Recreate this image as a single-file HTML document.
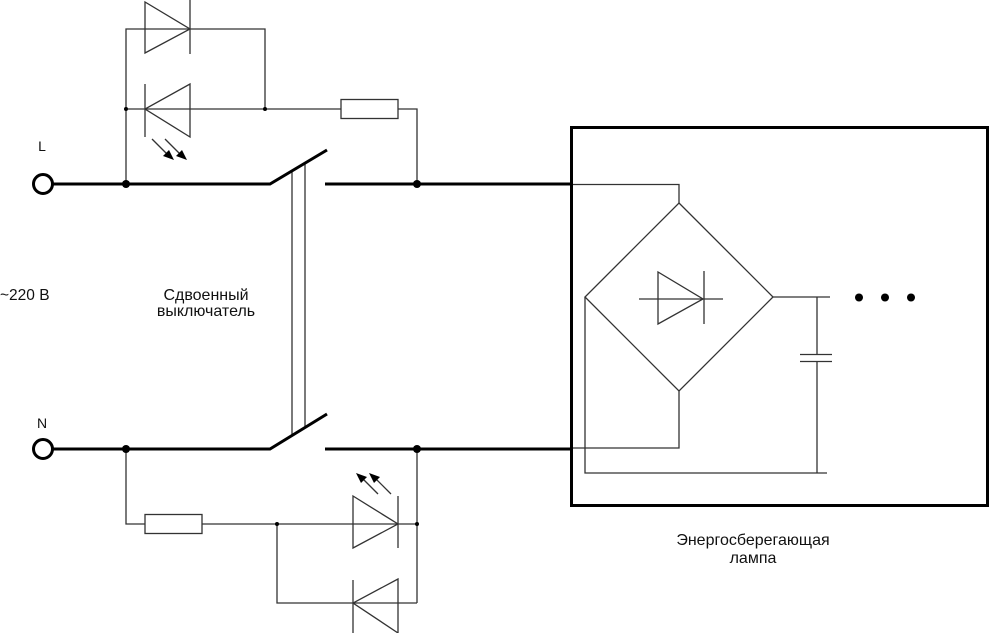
<!DOCTYPE html>
<html>
<head>
<meta charset="utf-8">
<style>
html,body{margin:0;padding:0;background:#fff;}
svg{display:block;}
text{font-family:"Liberation Sans",Arial,sans-serif;fill:#111;}
</style>
</head>
<body>
<svg width="989" height="633" viewBox="0 0 989 633" xmlns="http://www.w3.org/2000/svg">
<g fill="none" stroke="#333" stroke-width="1.3">
  <!-- top diode group -->
  <polyline points="126,184 126,29 265,29 265,109"/>
  <polygon points="145,2 145,53 190,29"/>
  <line x1="190" y1="0" x2="190" y2="54"/>
  <!-- LED top -->
  <line x1="126" y1="109" x2="341" y2="109"/>
  <polygon points="190,84 190,137 145,109"/>
  <line x1="145" y1="84" x2="145" y2="137"/>
  <rect x="341" y="99.5" width="57" height="19"/>
  <polyline points="398,109 417,109 417,184"/>
  <line x1="152" y1="139" x2="168" y2="155"/>
  <line x1="165" y1="139" x2="181" y2="155"/>
  <!-- bottom group -->
  <polyline points="126,449 126,524 145,524"/>
  <rect x="145" y="514.5" width="57" height="19"/>
  <line x1="202" y1="524" x2="417" y2="524"/>
  <polygon points="353,496 353,548 398,524"/>
  <line x1="398" y1="496" x2="398" y2="548"/>
  <line x1="417" y1="449" x2="417" y2="603"/>
  <polyline points="277,524 277,603 417,603"/>
  <polygon points="398,579 398,633 353,603"/>
  <line x1="353" y1="580" x2="353" y2="633"/>
  <line x1="378" y1="494" x2="362" y2="478"/>
  <line x1="391" y1="494" x2="375" y2="478"/>
  <!-- switch link -->
  <line x1="292" y1="171" x2="292" y2="435"/>
  <line x1="305" y1="164" x2="305" y2="428"/>
  <!-- lamp internals -->
  <polyline points="571,184.5 679,184.5 679,203"/>
  <polygon points="679,203 773,297 679,391 585,297"/>
  <polyline points="679,391 679,448 571,448"/>
  <polyline points="585,297 585,473 827,473"/>
  <line x1="773" y1="297" x2="830" y2="297"/>
  <line x1="817" y1="297" x2="817" y2="354"/>
  <line x1="817" y1="362" x2="817" y2="473"/>
  <line x1="800" y1="354.5" x2="832" y2="354.5"/>
  <line x1="800" y1="361.5" x2="832" y2="361.5"/>
  <line x1="639" y1="299" x2="723" y2="299"/>
  <polygon points="658,272 658,324 703,299"/>
  <line x1="704" y1="271" x2="704" y2="324"/>
</g>
<!-- arrowheads -->
<g fill="#000" stroke="none">
  <polygon points="174,160 163,156 169,150"/>
  <polygon points="187,160 176,156 182,150"/>
  <polygon points="356,473 367,477 361,483"/>
  <polygon points="369,473 380,477 374,483"/>
</g>
<!-- thick lines -->
<g fill="none" stroke="#000" stroke-width="3">
  <polyline points="53,184 270,184 327,150"/>
  <line x1="325" y1="184" x2="572" y2="184"/>
  <polyline points="53,449 270,449 327,414"/>
  <line x1="325" y1="449" x2="572" y2="449"/>
  <circle cx="43" cy="184" r="9.5"/>
  <circle cx="43" cy="449" r="9.5"/>
  <rect x="571.5" y="127.5" width="416" height="378"/>
</g>
<!-- junction dots -->
<g fill="#000">
  <circle cx="126" cy="184" r="4"/>
  <circle cx="417" cy="184" r="4"/>
  <circle cx="126" cy="449" r="4"/>
  <circle cx="417" cy="449" r="4"/>
  <circle cx="126" cy="109" r="2"/>
  <circle cx="265" cy="109" r="2"/>
  <circle cx="277" cy="524" r="2"/>
  <circle cx="417" cy="524" r="2"/>
  <circle cx="859" cy="297.5" r="4"/>
  <circle cx="885" cy="297.5" r="4"/>
  <circle cx="911" cy="297.5" r="4"/>
</g>
<!-- labels -->
<text x="42" y="151" font-size="14" text-anchor="middle">L</text>
<text x="42" y="428" font-size="14" text-anchor="middle">N</text>
<text x="0" y="300" font-size="15.5">~220 В</text>
<text x="206" y="300" font-size="16" text-anchor="middle">Сдвоенный</text>
<text x="206" y="316" font-size="16" text-anchor="middle">выключатель</text>
<text x="753" y="545" font-size="16" text-anchor="middle">Энергосберегающая</text>
<text x="753" y="563" font-size="16" text-anchor="middle">лампа</text>
</svg>
</body>
</html>
